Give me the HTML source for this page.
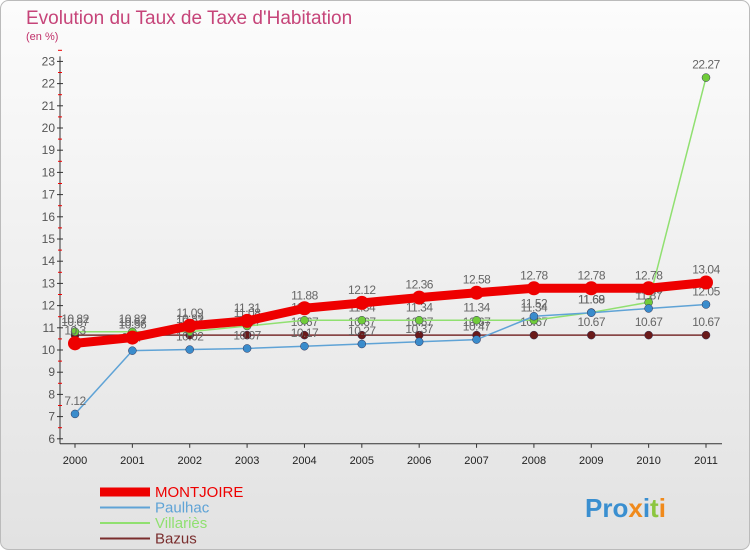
<!DOCTYPE html>
<html><head><meta charset="utf-8"><style>
body{margin:0;width:750px;height:550px;overflow:hidden;font-family:"Liberation Sans",sans-serif;}
</style></head><body>
<svg width="750" height="550" xmlns="http://www.w3.org/2000/svg">
<defs><linearGradient id="bg" x1="0" y1="0" x2="0" y2="1"><stop offset="0" stop-color="#fcfcfc"/><stop offset="1" stop-color="#e2e2e2"/></linearGradient></defs>
<rect x="0.5" y="0.5" width="749" height="549" rx="8" fill="url(#bg)" stroke="#bbb"/>
<text x="26" y="24" font-size="19" fill="#c0306a" fill-opacity="0.9">Evolution du Taux de Taxe d'Habitation</text>
<text x="26" y="40" font-size="11" fill="#c0306a">(en %)</text>
<g id="axes"></g><g id="series"></g><g id="legend"></g>
<text x="585" y="517" font-size="26" font-weight="bold" fill="#3a8fd0">Pro<tspan fill="#f08a1c">x</tspan><tspan fill="#3a8fd0">i</tspan><tspan fill="#8cc63f">t</tspan><tspan fill="#f08a1c">i</tspan></text>
</svg>
<script>
const years=[2000,2001,2002,2003,2004,2005,2006,2007,2008,2009,2010,2011];
const montjoire=[10.3,10.56,11.09,11.31,11.88,12.12,12.36,12.58,12.78,12.78,12.78,13.04];
const paulhac=[7.12,9.97,10.02,10.07,10.17,10.27,10.37,10.47,11.52,11.68,11.87,12.05];
const villaries=[10.82,10.82,10.82,11.08,11.34,11.34,11.34,11.34,11.34,11.69,12.15,22.27];
const bazus=[10.67,10.67,10.67,10.67,10.67,10.67,10.67,10.67,10.67,10.67,10.67,10.67];
const yTicks=[6,7,8,9,10,11,12,13,14,15,16,17,18,19,20,21,22,23];
const NS="http://www.w3.org/2000/svg";
const x=i=>75+i*(706-75)/(years.length-1);
const y=v=>350-(v-10)*22.2;
function mk(tag,attrs,parent,text){const e=document.createElementNS(NS,tag);for(const k in attrs)e.setAttribute(k,attrs[k]);if(text!==undefined)e.textContent=text;parent.appendChild(e);return e;}
const ax=document.getElementById('axes');
let a=mk('line',{x1:60,y1:y(23)-5,x2:60,y2:y(6)+5,stroke:'#333'},ax);

a=mk('line',{x1:60,y1:y(6)+5,x2:722,y2:y(6)+5,stroke:'#333'},ax);

yTicks.forEach(t=>{mk('line',{x1:57,y1:y(t),x2:63,y2:y(t),stroke:'#333'},ax);
 mk('line',{x1:58,y1:y(t+0.5),x2:62,y2:y(t+0.5),stroke:'#e00'},ax);
 const l=mk('text',{x:55,y:y(t)+4,'font-size':12,fill:'#555','text-anchor':'end'},ax,t);
 });
years.forEach((yr,i)=>{mk('line',{x1:x(i),y1:y(6)+5,x2:x(i),y2:y(6)+9,stroke:'#333'},ax);
 const l=mk('text',{x:x(i),y:464,'font-size':11,fill:'#222','text-anchor':'middle'},ax,yr);
 });
const sg=document.getElementById('series');
const series=[
 {name:'bazus',d:bazus,c:'#7a2e2e',w:1.5,r:4,f:'#6a1a1a'},
 {name:'villaries',d:villaries,c:'#90e070',w:1.5,r:4,f:'#70cc3a'},
 {name:'paulhac',d:paulhac,c:'#5fa3d6',w:1.5,r:4,f:'#3a8ccc'},
 {name:'montjoire',d:montjoire,c:'#ee0000',w:9,r:7,f:'#ee0000'}];
series.forEach(s=>{const g=mk('g',{},sg);
 const p=mk('polyline',{points:s.d.map((v,i)=>x(i)+','+y(v)).join(' '),fill:'none',stroke:s.c,'stroke-width':s.w,'stroke-linejoin':'round'},g);
 
 s.d.forEach((v,i)=>{const c=mk('circle',{cx:x(i),cy:y(v),r:s.r,fill:s.f,stroke:s.name==='montjoire'?'none':'#335','stroke-width':0.5},g);
  
  const t=mk('text',{x:x(i),y:y(v)-9,'font-size':12,fill:'#666','text-anchor':'middle','letter-spacing':'-0.5'},g,v.toFixed(2).replace(/0$/,'').replace(/\.$/,''));
  });});
const lg=document.getElementById('legend');
const names=['MONTJOIRE','Paulhac','Villariès','Bazus'];
const lc=['#ee0000','#5fa3d6','#90e070','#7a2e2e'];const lw=[9,2,2,2];
names.forEach((n,i)=>{const g=mk('g',{},lg);
 const yy=492+i*15.5;mk('line',{x1:100,y1:yy,x2:150,y2:yy,stroke:lc[i],'stroke-width':lw[i]},g);
 mk('text',{x:155,y:yy+5,'font-size':15,fill:lc[i]},g,n);});
</script>
</body></html>
